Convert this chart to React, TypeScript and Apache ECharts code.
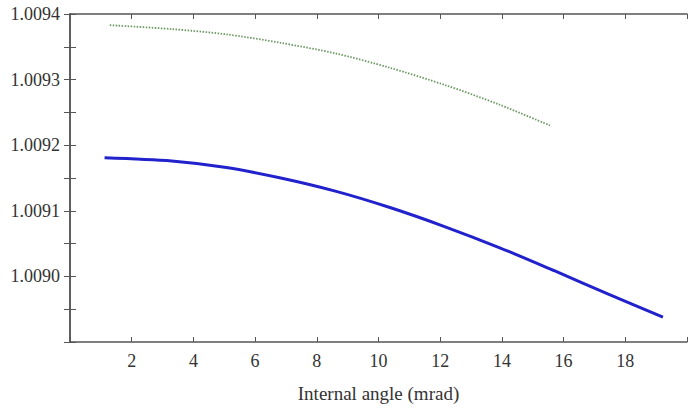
import React, { useEffect, useRef } from "react";
import * as echarts from "echarts";

const blueX = [1.12, 3.3, 5.07, 6.83, 8.6, 10.37, 12.14, 13.91, 15.68, 17.45, 19.22];
const blueY = [1.009181, 1.009176, 1.009166, 1.00915, 1.00913, 1.009105, 1.009076, 1.009044, 1.009009, 1.008973, 1.008938];
const greenX = [1.29, 3.3, 5.07, 6.83, 8.6, 10.37, 12.14, 13.91, 15.56];
const greenY = [1.009383, 1.009377, 1.009369, 1.009356, 1.00934, 1.009318, 1.009292, 1.009262, 1.00923];
const xTitle = "Internal angle (mrad)";

const FONT = "'Liberation Serif', 'DejaVu Serif', serif";

export default function App() {
  const ref = useRef<HTMLDivElement>(null);
  useEffect(() => {
    const chart = echarts.init(ref.current!, null, { renderer: "svg" });
    const axisLine = { show: true, lineStyle: { color: "#555", width: 1.5 } };
    chart.setOption({
      animation: false,
      backgroundColor: "#fff",
      grid: { left: 70, top: 14, right: 7, bottom: 65 },
      xAxis: [
        {
          type: "value",
          min: 0,
          max: 20,
          interval: 2,
          position: "bottom",
          axisLine,
          axisTick: { show: true, inside: true, length: 5, lineStyle: { color: "#555" } },
          splitLine: { show: false },
          axisLabel: {
            color: "#333",
            fontFamily: FONT,
            fontSize: 18,
            margin: 10,
            formatter: (v: number) => (v === 0 || v === 20 ? "" : String(v)),
          },
          name: xTitle,
          nameLocation: "middle",
          nameGap: 42,
          nameTextStyle: { color: "#333", fontFamily: FONT, fontSize: 19 },
        },
        {
          type: "value",
          min: 0,
          max: 20,
          interval: 2,
          position: "top",
          axisLine,
          axisTick: { show: true, inside: true, length: 5, lineStyle: { color: "#555" } },
          splitLine: { show: false },
          axisLabel: { show: false },
        },
      ],
      yAxis: [
        {
          type: "value",
          min: 1.0089,
          max: 1.0094,
          interval: 0.0001,
          position: "left",
          axisLine,
          axisTick: { show: true, inside: true, length: 6, lineStyle: { color: "#555" } },
          minorTick: { show: true, splitNumber: 2, length: 6, lineStyle: { color: "#555" } },
          splitLine: { show: false },
          axisLabel: {
            color: "#333",
            fontFamily: FONT,
            fontSize: 18,
            margin: 10,
            formatter: (v: number) => (Math.abs(v - 1.0089) < 1e-7 ? "" : v.toFixed(4)),
          },
        },
        {
          type: "value",
          min: 1.0089,
          max: 1.0094,
          interval: 0.0001,
          position: "right",
          axisLine,
          axisTick: { show: true, inside: true, length: 6, lineStyle: { color: "#555" } },
          minorTick: { show: true, splitNumber: 2, length: 6, lineStyle: { color: "#555" } },
          splitLine: { show: false },
          axisLabel: { show: false },
        },
      ],
      series: [
        {
          type: "line",
          xAxisIndex: 0,
          yAxisIndex: 0,
          data: greenX.map((x, i) => [x, greenY[i]]),
          smooth: 0.3,
          showSymbol: false,
          lineStyle: { color: "#6a9a62", width: 1.8, type: [1.5, 1.5] },
        },
        {
          type: "line",
          xAxisIndex: 0,
          yAxisIndex: 0,
          data: blueX.map((x, i) => [x, blueY[i]]),
          smooth: 0.3,
          showSymbol: false,
          lineStyle: { color: "#2222cc", width: 3 },
        },
      ],
    });
    return () => chart.dispose();
  }, []);
  return <div ref={ref} style={{ width: 694, height: 408, position: "absolute", left: 0, top: 0 }} />;
}
